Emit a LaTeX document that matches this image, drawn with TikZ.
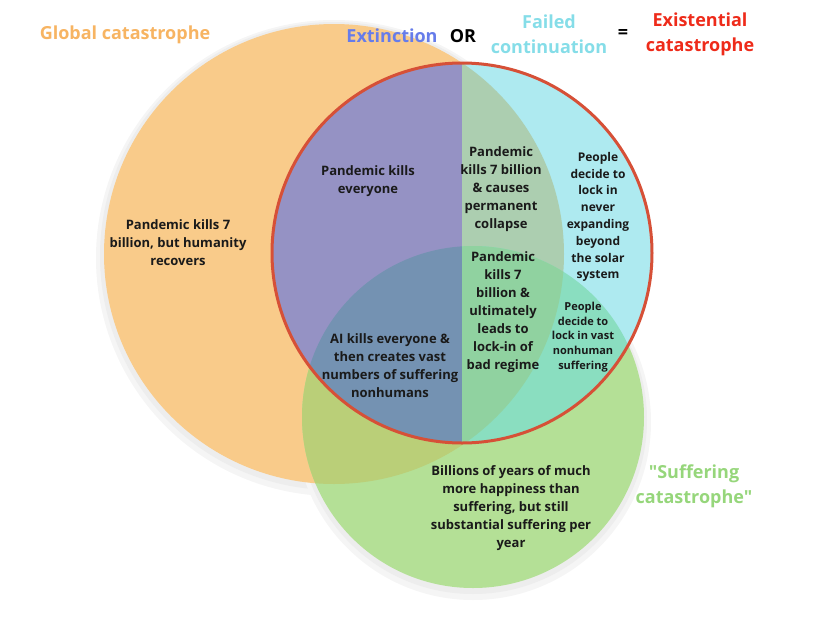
\documentclass[tikz,border=0pt]{standalone}
\usepackage{fontspec}
\setmainfont{Open Sans}[Ligatures=TeXOff]
\usetikzlibrary{positioning}
\definecolor{orangefill}{HTML}{F9CB8A}
\definecolor{greenfill}{HTML}{B4E096}
\definecolor{olivefill}{HTML}{BACF78}
\definecolor{purplefill}{HTML}{9592C4}
\definecolor{purplegreen}{HTML}{7492B2}
\definecolor{cyanfill}{HTML}{AEEAF0}
\definecolor{cyanorange}{HTML}{ACCEB0}
\definecolor{cyangreen}{HTML}{8ADEC0}
\definecolor{cyanall}{HTML}{90D2A0}
\definecolor{redline}{HTML}{D65037}
\definecolor{orangetext}{HTML}{F7B462}
\definecolor{bluetext}{HTML}{667CEA}
\definecolor{cyantext}{HTML}{85DDE8}
\definecolor{redtext}{HTML}{EE2B1A}
\definecolor{greentext}{HTML}{96D67B}
\definecolor{darktext}{HTML}{1A1A1A}
\newcommand{\orangeC}{(334,254) circle (230)}
\newcommand{\greenC}{(473,417) circle (171)}
\newcommand{\redC}{(462,253) circle (190)}

\begin{document}
\begin{tikzpicture}[x=1pt,y=-1pt,
  headtext/.style={font=\bfseries\fontsize{18}{25}\selectfont, align=center, inner sep=0pt},
  venntext/.style={font=\bfseries\fontsize{13}{18}\selectfont, align=center, inner sep=0pt, text=darktext},
  narrowtext/.style={font=\bfseries\fontsize{12}{16.8}\selectfont, align=center, inner sep=0pt, text=darktext},
  smalltext/.style={font=\bfseries\fontsize{11}{14.6}\selectfont, align=center, inner sep=0pt, text=darktext}]
  \useasboundingbox (0,0) rectangle (815,630);

  \fill[black!4] (334,258) circle (238) ;  %Shadow of global circle
  \fill[black!7] (334,256) circle (234) ;
  \fill[black!4] (473,422) circle (178) ;  %Shadow of suffering circle
  \fill[black!7] (473,420) circle (174) ;

  \fill[orangefill] \orangeC ;  %Global catastrophe
  \fill[greenfill] \greenC ;    %Suffering catastrophe
  \begin{scope}
    \clip \greenC ;
    \fill[olivefill] \orangeC ;
  \end{scope}

  \begin{scope}  %Existential catastrophe, split in two halves
    \clip \redC ;
    \fill[purplefill] (260,55) rectangle (462,450) ;
    \fill[cyanfill] (462,55) rectangle (660,450) ;
    \begin{scope}
      \clip \orangeC ;
      \fill[cyanorange] (462,55) rectangle (660,450) ;
    \end{scope}
    \begin{scope}
      \clip \greenC ;
      \fill[purplegreen] (260,55) rectangle (462,450) ;
      \fill[cyangreen] (462,55) rectangle (660,450) ;
      \clip \orangeC ;
      \fill[cyanall] (462,55) rectangle (660,450) ;
    \end{scope}
  \end{scope}
  \draw[redline, line width=3pt] \redC ;

  % headings
  \node[headtext, text=orangetext] (global) at (125,35) {Global catastrophe};
  \node[headtext, text=bluetext] (extinction) at (392,36) {Extinction};
  \node[headtext, text=black] (or) at (463,36) {OR};
  \node[headtext, text=cyantext] (failed) at (549,34) {Failed\\continuation};
  \node[headtext, text=black] (equals) at (623,34) {=};
  \node[headtext, text=redtext] (existential) at (700,34) {Existential\\catastrophe};
  \node[headtext, text=greentext] (suffering) at (694,486) {"Suffering\\catastrophe"};

  % regions
  \node[venntext] (recovers) at (178,243) {Pandemic kills 7\\billion, but humanity\\recovers};
  \node[venntext] (everyone) at (368,181) {Pandemic kills\\everyone};
  \node[venntext] (collapse) at (501,189) {Pandemic\\kills 7 billion\\\& causes\\permanent\\collapse};
  \node[narrowtext] (solar) at (598,217) {People\\decide to\\lock in\\never\\expanding\\beyond\\the solar\\system};
  \node[venntext] (regime) at (503,312) {Pandemic\\kills 7\\billion \&\\ultimately\\leads to\\lock-in of\\bad regime};
  \node[smalltext] (vast) at (583,337) {People\\decide to\\lock in vast\\nonhuman\\suffering};
  \node[venntext] (aikills) at (390,366) {AI kills everyone \&\\then creates vast\\numbers of suffering\\nonhumans};
  \node[venntext] (billions) at (511,508) {Billions of years of much\\more happiness than\\suffering, but still\\substantial suffering per\\year};
\end{tikzpicture}
\end{document}
